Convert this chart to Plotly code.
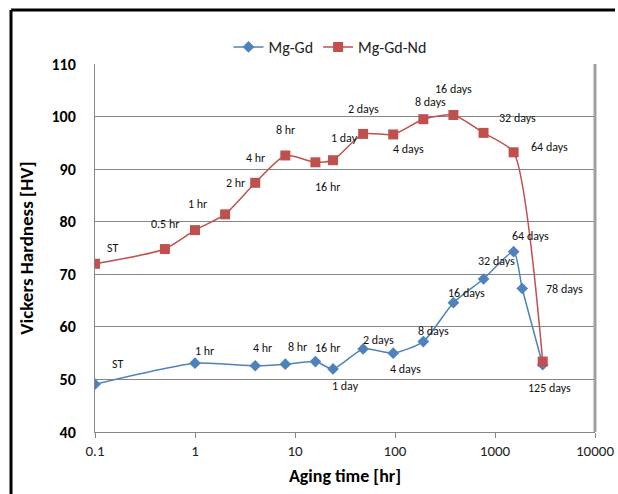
import math
import plotly.graph_objects as go

# ---- data ----
nd_hours = [0.1, 0.5, 1, 2, 4, 8, 16, 24, 48, 96, 192, 384, 768, 1536, 3000]
nd_hv = [72.0, 74.8, 78.4, 81.4, 87.4, 92.6, 91.3, 91.7, 96.7, 96.6, 99.5, 100.3, 96.9, 93.2, 53.4]
nd_labels = ["ST", "0.5 hr", "1 hr", "2 hr", "4 hr", "8 hr", "16 hr", "1 day", "2 days",
             "4 days", "8 days", "16 days", "32 days", "64 days", ""]

gd_hours = [0.1, 1, 4, 8, 16, 24, 48, 96, 192, 384, 768, 1536, 1872, 3000]
gd_hv = [49.1, 53.1, 52.6, 52.9, 53.4, 52.0, 55.8, 55.0, 57.2, 64.6, 69.1, 74.3, 67.3, 52.8]
gd_labels = ["ST", "1 hr", "4 hr", "8 hr", "16 hr", "1 day", "2 days", "4 days", "8 days",
             "16 days", "32 days", "64 days", "78 days", "125 days"]

x_ticks = [0.1, 1, 10, 100, 1000, 10000]
x_tick_text = ["0.1", "1", "10", "100", "1000", "10000"]
y_ticks = [40, 50, 60, 70, 80, 90, 100, 110]

# label offsets in pixels (dx right, dy down)
nd_offsets = [(17, -16), (0, -25), (2, -26), (10, -31), (0, -25), (0, -25), (12, 25), (11, -22),
              (0, -25), (15, 15), (7, -17), (0, -26), (34, -15), (36, -5), (0, 0)]
gd_offsets = [(22, -20), (9, -12), (7, -18), (12, -17), (12, -14), (12, 17), (15, -9), (12, 16),
              (10, -11), (13, -10), (13, -18), (17, -16), (42, 1), (7, 23)]

FONT = "Carlito, 'Liberation Sans Narrow', 'DejaVu Sans Condensed', 'Liberation Sans', sans-serif"
BLUE = "#4F81BD"
RED = "#C0504D"

fig = go.Figure()
fig.add_trace(go.Scatter(
    x=gd_hours, y=gd_hv, name="Mg-Gd", mode="lines+markers",
    line=dict(color=BLUE, width=1.5, shape="spline", smoothing=0.6),
    marker=dict(symbol="diamond", size=9, color=BLUE),
))
fig.add_trace(go.Scatter(
    x=nd_hours, y=nd_hv, name="Mg-Gd-Nd", mode="lines+markers",
    line=dict(color=RED, width=1.5, shape="spline", smoothing=0.6),
    marker=dict(symbol="square", size=10, color=RED),
))

annotations = []
for xs, ys, labs, offs in [(nd_hours, nd_hv, nd_labels, nd_offsets),
                           (gd_hours, gd_hv, gd_labels, gd_offsets)]:
    for xv, yv, lab, (dx, dy) in zip(xs, ys, labs, offs):
        if not lab:
            continue
        annotations.append(dict(
            x=math.log10(xv), y=yv, xref="x", yref="y", text=lab, showarrow=False,
            xshift=dx, yshift=-dy, font=dict(family=FONT, size=12, color="#111111"),
        ))

fig.update_layout(
    width=618, height=494,
    margin=dict(l=95, r=23, t=64, b=62, autoexpand=False),
    paper_bgcolor="white", plot_bgcolor="white",
    font=dict(family=FONT, color="black"),
    showlegend=True,
    legend=dict(orientation="h", x=0.47, xanchor="center", y=1.0, yanchor="bottom",
                font=dict(family=FONT, size=16, color="#222222"),
                bgcolor="rgba(0,0,0,0)"),
    annotations=annotations,
    shapes=[
        dict(type="line", xref="paper", yref="paper", x0=-0.168, x1=1.04, y0=1.1467, y1=1.1467,
             line=dict(color="black", width=3)),
        dict(type="line", xref="paper", yref="paper", x0=-0.168, x1=-0.168, y0=1.1467, y1=-0.2,
             line=dict(color="black", width=3)),
        dict(type="line", xref="paper", yref="paper", x0=1, x1=1, y0=0, y1=1,
             line=dict(color="#A0A0A0", width=3)),
    ],
)
fig.update_xaxes(
    type="log", range=[-1, 4], tickvals=x_ticks, ticktext=x_tick_text, automargin=False,
    showgrid=False, showline=True, linecolor="#868686", linewidth=1, mirror=False,
    ticks="outside", ticklen=5, tickcolor="#868686",
    tickfont=dict(family=FONT, size=15, color="#222222"),
    title=dict(text="<b>Aging time [hr]</b>", font=dict(family=FONT, size=18, color="black"), standoff=10),
    zeroline=False,
)
fig.update_yaxes(
    range=[40, 110], tickvals=y_ticks, automargin=False,
    showgrid=True, gridcolor="#868686", gridwidth=1,
    showline=True, linecolor="#868686", linewidth=1,
    ticks="", ticklabelstandoff=15,
    tickfont=dict(family=FONT, size=16, color="black", weight="bold"),
    title=dict(text="<b>Vickers Hardness [HV]</b>", font=dict(family=FONT, size=19, color="black"), standoff=12),
    zeroline=False,
)

fig.write_html("out.html")
